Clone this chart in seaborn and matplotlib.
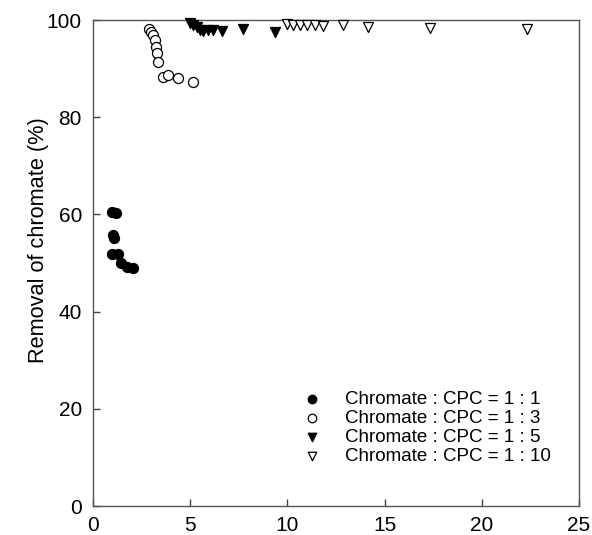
import matplotlib
matplotlib.use("Agg")
import matplotlib.pyplot as plt
import seaborn as sns
import pandas as pd

# Data
x_11 = [0.98, 1.18, 1.03, 1.08, 0.98, 1.29, 1.44, 1.75, 2.06]
y_11 = [60.5, 60.3, 55.8, 55.1, 51.9, 51.9, 50.0, 49.2, 49.0]

x_13 = [2.88, 2.98, 3.09, 3.19, 3.24, 3.29, 3.34, 3.60, 3.86, 4.37, 5.14]
y_13 = [98.1, 97.5, 96.9, 95.9, 94.4, 93.2, 91.4, 88.3, 88.7, 88.1, 87.2]

x_15 = [4.99, 5.14, 5.35, 5.50, 5.66, 5.92, 6.17, 6.64, 7.72, 9.36]
y_15 = [99.4, 99.0, 98.6, 97.9, 97.7, 97.9, 97.9, 97.7, 98.1, 97.5]

x_110 = [9.98, 10.29, 10.65, 11.01, 11.42, 11.83, 12.86, 14.15, 17.34, 22.33]
y_110 = [99.2, 99.0, 99.0, 99.0, 99.0, 98.8, 99.0, 98.6, 98.4, 98.1]

labels = ["Chromate : CPC = 1 : 1", "Chromate : CPC = 1 : 3",
          "Chromate : CPC = 1 : 5", "Chromate : CPC = 1 : 10"]

series = [(x_11, y_11), (x_13, y_13), (x_15, y_15), (x_110, y_110)]
markers = ["o", "o", "v", "v"]
faces = ["black", "white", "black", "white"]

sns.set_style("white")
plt.rcParams["font.family"] = ["Liberation Sans", "DejaVu Sans"]
plt.rcParams["text.color"] = "black"
plt.rcParams["axes.labelcolor"] = "black"

fig = plt.figure(figsize=(5.92, 5.35), dpi=100)
ax = fig.add_axes([93 / 592, 29 / 535, 486 / 592, 486 / 535])

for (xs, ys), m, fc, lab in zip(series, markers, faces, labels):
    df = pd.DataFrame({"x": xs, "y": ys})
    sns.scatterplot(data=df, x="x", y="y", marker=m, s=52, color=fc,
                    edgecolor="black", linewidth=0.9, ax=ax, label=lab,
                    zorder=3, clip_on=False)

ax.set_xlim(0, 25)
ax.set_ylim(0, 100)
ax.set_xticks([0, 5, 10, 15, 20, 25])
ax.set_yticks([0, 20, 40, 60, 80, 100])
ax.set_xlabel("")
ax.set_ylabel("Removal of chromate (%)", fontsize=15.7, color="black")
ax.yaxis.set_label_coords(-0.091, 0.547)
ax.tick_params(axis="both", direction="in", length=5, width=1,
               labelsize=15, color="#444444", labelcolor="black", pad=8,
               bottom=True, left=True, top=False, right=False)
ax.tick_params(axis="x", pad=7.5)
for sp in ax.spines.values():
    sp.set_color("#555555")
    sp.set_linewidth(1.0)

leg = ax.legend(loc="lower left", frameon=False, fontsize=13.5,
                handletextpad=0.76, labelspacing=0.11, markerscale=0.85,
                handlelength=2.0, borderpad=0.4,
                bbox_to_anchor=(0.378, 0.049))
for t in leg.get_texts():
    t.set_color("black")

fig.savefig("out.png", dpi=100)
